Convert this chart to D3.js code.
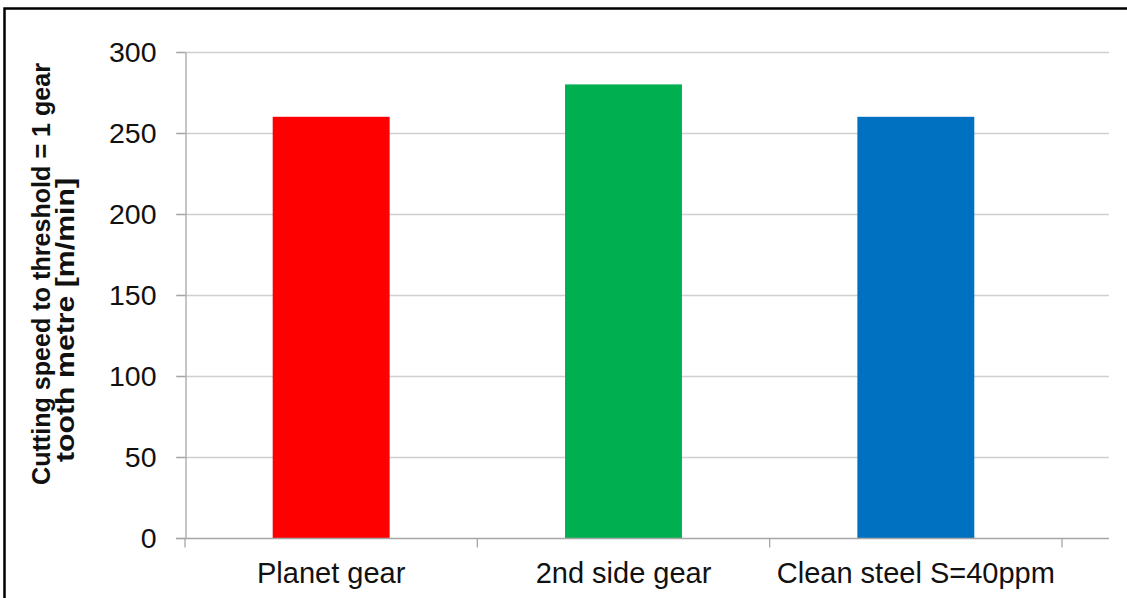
<!DOCTYPE html>
<html><head><meta charset="utf-8">
<script src="https://cdn.jsdelivr.net/npm/d3@7"></script>
<style>body{margin:0;background:#fff}svg{display:block}</style>
</head><body>
<script>
const categories = ["Planet gear", "2nd side gear", "Clean steel S=40ppm"];
const values = [260, 280, 260];
const colors = ["#ff0000", "#00b050", "#0070c0"];
const yTicks = [0, 50, 100, 150, 200, 250, 300];
const yTitle = ["Cutting speed to threshold = 1 gear", "tooth metre [m/min]"];

const W = 1127, H = 598;
const m = {left: 185, right: 1127 - 1062, top: 52, bottom: 598 - 538};
const svg = d3.select("body").append("svg").attr("width", W).attr("height", H);
const FONT = "Liberation Sans, Arial, sans-serif";

svg.append("rect").attr("x", 4.5).attr("y", 8.5).attr("width", W + 10).attr("height", H + 10)
  .attr("fill", "none").attr("stroke", "#000").attr("stroke-width", 2.5);

const x = d3.scaleBand().domain(categories).range([m.left, W - m.right]).paddingInner(0.6).paddingOuter(0.3);
const y = d3.scaleLinear().domain([0, 300]).range([H - m.bottom, m.top]);

// gridlines
svg.append("g").selectAll("line").data(yTicks.filter(d => d > 0)).join("line")
  .attr("x1", m.left - 9).attr("x2", 1109)
  .attr("y1", d => Math.round(y(d)) + 0.5).attr("y2", d => Math.round(y(d)) + 0.5)
  .attr("stroke", "#d0d0d0").attr("stroke-width", 1.5);

// bars
svg.append("g").selectAll("rect").data(values).join("rect")
  .attr("x", (d, i) => x(categories[i])).attr("width", x.bandwidth())
  .attr("y", d => y(d)).attr("height", d => y(0) - y(d))
  .attr("fill", (d, i) => colors[i]);

// y axis
const ya = svg.append("g").attr("transform", `translate(${m.left + 0.5},0)`)
  .call(d3.axisLeft(y).tickValues(yTicks).tickSize(9).tickSizeOuter(0).tickPadding(12));
ya.select(".domain").attr("stroke", "#a6a6a6").attr("stroke-width", 1.3);
ya.selectAll(".tick line").attr("stroke", "#a6a6a6").attr("stroke-width", 1.3);
ya.selectAll("text").attr("font-family", FONT).attr("font-size", 28.5).attr("fill", "#111").attr("dx", -8);

// x axis
const xb = d3.scaleLinear().domain([0, 3]).range([m.left, W - m.right]);
const xa = svg.append("g").attr("transform", `translate(0,${Math.round(y(0)) + 0.5})`);
xa.append("line").attr("x1", m.left - 9).attr("x2", 1109).attr("stroke", "#a6a6a6").attr("stroke-width", 1.5);
xa.selectAll("line.tk").data([0, 1, 2, 3]).join("line").attr("class", "tk")
  .attr("x1", d => xb(d)).attr("x2", d => xb(d)).attr("y1", 0).attr("y2", 9)
  .attr("stroke", "#a6a6a6").attr("stroke-width", 1.3);
xa.selectAll("text").data(categories).join("text")
  .attr("x", d => x(d) + x.bandwidth() / 2).attr("y", 44)
  .attr("text-anchor", "middle").attr("font-family", FONT)
  .attr("font-size", 29).attr("fill", "#111").text(d => d);

// y title (two lines, each with its own centre and length as in the reference)
const titleCentres = [274, 320];
const titleBase = [50, 74];
const titleLen = [422, 284];
svg.append("g").selectAll("text").data(yTitle).join("text")
  .attr("transform", (d, i) => `translate(${titleBase[i]},${titleCentres[i]}) rotate(-90)`)
  .attr("text-anchor", "middle").attr("font-family", FONT)
  .attr("textLength", (d, i) => titleLen[i]).attr("lengthAdjust", "spacingAndGlyphs")
  .attr("font-size", 26).attr("font-weight", "bold").attr("fill", "#111").text(d => d);
</script>
</body></html>
